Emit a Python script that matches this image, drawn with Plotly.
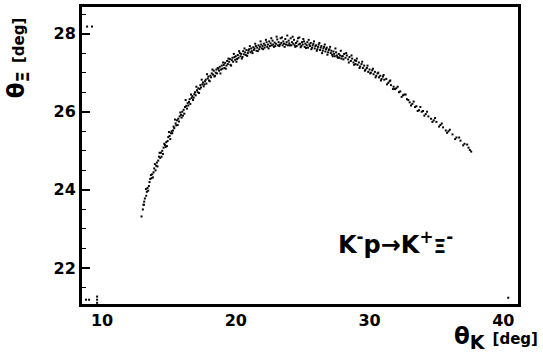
import plotly.graph_objects as go

# theta_K [deg] / theta_Xi [deg] scatter points
theta_k = [
    12.95, 13.05, 13.1, 13.15, 13.2, 13.3, 13.35, 13.4, 13.5, 13.55, 13.6, 13.7, 13.75, 13.85, 13.9, 14.0, 14.05,
    14.1, 14.2, 14.25, 14.35, 14.4, 14.5, 14.55, 14.6, 14.7, 14.75, 14.8, 14.9, 14.95,
    15.05, 15.1, 15.15, 15.2, 15.3, 15.35, 15.4, 15.5, 15.55, 15.6, 15.7, 15.75, 15.8, 15.9, 15.95,
    16.0, 16.1, 16.15, 16.2, 16.3, 16.35, 16.4, 16.5, 16.55, 16.6, 16.7, 16.75, 16.8, 16.9, 16.95,
    17.0, 17.1, 17.15, 17.2, 17.3, 17.35, 17.4, 17.5, 17.55, 17.6, 17.7, 17.75, 17.8, 17.9, 17.95,
    18.0, 18.1, 18.15, 18.2, 18.3, 18.35, 18.4, 18.5, 18.55, 18.6, 18.7, 18.75, 18.8, 18.9, 18.95,
    19.0, 19.1, 19.15, 19.2, 19.3, 19.35, 19.4, 19.5, 19.55, 19.6, 19.7, 19.75, 19.8, 19.9, 19.95,
    20.0, 20.1, 20.15, 20.2, 20.3, 20.35, 20.4, 20.5, 20.55, 20.6, 20.7, 20.75, 20.8, 20.9, 20.95,
    21.0, 21.1, 21.15, 21.2, 21.3, 21.35, 21.4, 21.5, 21.55, 21.6, 21.7, 21.75, 21.8, 21.9, 21.95,
    22.0, 22.1, 22.15, 22.2, 22.3, 22.35, 22.4, 22.5, 22.55, 22.6, 22.7, 22.75, 22.8, 22.9, 22.95,
    23.0, 23.1, 23.15, 23.2, 23.3, 23.35, 23.4, 23.5, 23.55, 23.6, 23.7, 23.75, 23.8, 23.9, 23.95,
    24.0, 24.1, 24.15, 24.2, 24.3, 24.35, 24.4, 24.5, 24.55, 24.6, 24.7, 24.75, 24.8, 24.9, 24.95,
    25.0, 25.1, 25.15, 25.2, 25.3, 25.35, 25.4, 25.5, 25.55, 25.6, 25.7, 25.75, 25.8, 25.9, 25.95,
    26.0, 26.1, 26.15, 26.2, 26.3, 26.35, 26.4, 26.5, 26.55, 26.6, 26.7, 26.75, 26.8, 26.9, 26.95,
    27.0, 27.1, 27.15, 27.2, 27.3, 27.35, 27.4, 27.5, 27.55, 27.6, 27.7, 27.75, 27.8, 27.9, 27.95,
    28.0, 28.1, 28.2, 28.3, 28.4, 28.5, 28.6, 28.7, 28.8, 28.9, 28.95,
    29.0, 29.1, 29.2, 29.3, 29.4, 29.5, 29.6, 29.7, 29.8, 29.9,
    30.0, 30.1, 30.2, 30.3, 30.4, 30.5, 30.6, 30.7, 30.8, 30.9,
    31.0, 31.1, 31.25, 31.4, 31.5, 31.6, 31.8, 31.9,
    32.0, 32.2, 32.3, 32.5, 32.6, 32.8, 32.9,
    33.0, 33.2, 33.4, 33.5, 33.7, 33.9,
    34.0, 34.2, 34.4, 34.6, 34.8,
    35.0, 35.3, 35.5, 35.7, 35.9,
    36.2, 36.5, 36.8, 37.1, 37.4, 37.5,
    13.12, 13.28, 13.45, 13.65, 13.8, 13.95, 14.15, 14.3, 14.45, 14.65, 14.85, 15.0, 15.25, 15.45, 15.65,
    15.85, 16.05, 16.25, 16.45, 16.65, 16.85, 17.05, 17.25, 17.45, 17.65, 17.85, 18.05, 18.25, 18.45, 18.65,
    18.85, 19.05, 19.25, 19.45, 19.65, 19.85, 20.05, 20.25, 20.45, 20.65, 20.85, 21.05, 21.25, 21.45, 21.65,
    21.85, 22.05, 22.25, 22.45, 22.65, 22.85, 23.05, 23.25, 23.45, 23.65, 23.85, 24.05, 24.25, 24.45, 24.65,
    24.85, 25.05, 25.25, 25.45, 25.65, 25.85, 26.05, 26.25, 26.45, 26.65, 26.85, 27.05, 27.25, 27.45, 27.65,
    27.85, 28.05, 28.25, 28.45, 28.65, 28.85, 29.05, 29.25, 29.45, 29.65, 29.85, 30.05, 30.25, 30.45, 30.65,
    30.85, 31.05, 31.3, 31.55, 31.75, 32.1, 32.4, 32.7, 33.1, 33.3, 33.6, 33.8, 34.1, 34.3, 34.7,
    34.9, 35.2, 35.4, 35.8, 36.0, 36.4, 36.7, 37.0, 37.3, 37.6,
    8.88, 9.25, 8.8, 9.03, 9.63, 9.63, 9.63, 40.37,
]
theta_xi = [
    23.32, 23.5, 23.62, 23.7, 23.78, 23.85, 23.95, 24.05, 24.1, 24.2, 24.28, 24.3, 24.4, 24.45, 24.55, 24.5, 24.62,
    24.7, 24.75, 24.85, 24.82, 24.95, 25.0, 24.92, 25.08, 25.15, 25.1, 25.22, 25.25, 25.35,
    25.38, 25.3, 25.45, 25.5, 25.52, 25.62, 25.58, 25.7, 25.65, 25.78, 25.82, 25.75, 25.88, 25.92, 25.85,
    26.0, 26.05, 25.95, 26.12, 26.15, 26.08, 26.22, 26.25, 26.32, 26.2, 26.35, 26.4, 26.3, 26.45, 26.5,
    26.42, 26.55, 26.5, 26.6, 26.58, 26.68, 26.62, 26.7, 26.75, 26.65, 26.78, 26.82, 26.72, 26.85, 26.9,
    26.8, 26.92, 26.88, 26.98, 26.95, 27.05, 26.9, 27.0, 27.08, 26.98, 27.1, 27.05, 27.15, 27.08, 27.18,
    27.1, 27.2, 27.12, 27.25, 27.18, 27.3, 27.22, 27.28, 27.35, 27.2, 27.32, 27.38, 27.28, 27.4, 27.33,
    27.42, 27.35, 27.45, 27.38, 27.5, 27.42, 27.48, 27.4, 27.55, 27.47, 27.52, 27.45, 27.58, 27.5, 27.56,
    27.6, 27.52, 27.62, 27.55, 27.65, 27.58, 27.62, 27.68, 27.56, 27.64, 27.7, 27.6, 27.66, 27.72, 27.62,
    27.68, 27.74, 27.64, 27.7, 27.78, 27.66, 27.72, 27.8, 27.68, 27.75, 27.7, 27.82, 27.72, 27.77, 27.68,
    27.74, 27.85, 27.7, 27.78, 27.72, 27.88, 27.76, 27.7, 27.8, 27.74, 27.86, 27.72, 27.78, 27.7, 27.82,
    27.75, 27.88, 27.7, 27.78, 27.74, 27.84, 27.7, 27.76, 27.68, 27.8, 27.72, 27.9, 27.74, 27.68, 27.78,
    27.72, 27.8, 27.66, 27.74, 27.7, 27.78, 27.64, 27.72, 27.68, 27.76, 27.64, 27.7, 27.74, 27.62, 27.68,
    27.7, 27.6, 27.66, 27.72, 27.58, 27.64, 27.68, 27.56, 27.62, 27.66, 27.54, 27.6, 27.64, 27.52, 27.58,
    27.6, 27.5, 27.56, 27.46, 27.54, 27.48, 27.42, 27.52, 27.44, 27.4, 27.48, 27.38, 27.44, 27.36, 27.42,
    27.42, 27.48, 27.38, 27.44, 27.34, 27.4, 27.3, 27.36, 27.26, 27.32, 27.22,
    27.3, 27.2, 27.26, 27.16, 27.22, 27.12, 27.18, 27.08, 27.12, 27.02,
    27.08, 27.0, 27.06, 26.96, 27.02, 26.92, 26.98, 26.88, 26.92, 26.84,
    26.9, 26.82, 26.84, 26.74, 26.78, 26.68, 26.64, 26.58,
    26.6, 26.5, 26.52, 26.42, 26.44, 26.32, 26.3,
    26.24, 26.2, 26.12, 26.14, 26.04, 26.0,
    26.02, 25.94, 25.88, 25.82, 25.78,
    25.74, 25.66, 25.6, 25.52, 25.5,
    25.42, 25.34, 25.26, 25.18, 25.08, 25.02,
    23.62, 24.02, 23.98, 24.38, 24.32, 24.66, 24.6, 24.95, 24.85, 25.18, 25.12, 25.48, 25.45, 25.8, 25.66,
    25.98, 25.9, 26.3, 26.16, 26.44, 26.36, 26.64, 26.48, 26.82, 26.7, 26.96, 26.78, 27.08, 26.92, 27.12,
    26.98, 27.26, 27.1, 27.36, 27.18, 27.48, 27.28, 27.55, 27.36, 27.62, 27.43, 27.68, 27.5, 27.74, 27.55,
    27.8, 27.6, 27.84, 27.62, 27.88, 27.66, 27.92, 27.68, 27.9, 27.66, 27.95, 27.7, 27.92, 27.66, 27.88,
    27.65, 27.86, 27.63, 27.84, 27.6, 27.8, 27.56, 27.76, 27.5, 27.72, 27.46, 27.66, 27.42, 27.62, 27.38,
    27.56, 27.34, 27.5, 27.26, 27.44, 27.2, 27.36, 27.12, 27.28, 27.05, 27.18, 26.98, 27.1, 26.88, 27.0,
    26.8, 26.94, 26.7, 26.8, 26.58, 26.64, 26.38, 26.44, 26.16, 26.26, 26.02, 26.12, 25.9, 26.0, 25.74,
    25.84, 25.62, 25.7, 25.46, 25.54, 25.3, 25.34, 25.14, 25.16, 24.98,
    28.18, 28.18, 21.19, 21.19, 21.27, 21.19, 21.11, 21.24,
]

x_ticks = [10, 20, 30, 40]
y_ticks = [22, 24, 26, 28]
reaction_label = "K<sup>-</sup>p→K<sup>+</sup><span style='font-size:20px'>Ξ</span><sup>-</sup>"

fig = go.Figure()
fig.add_trace(go.Scatter(
    x=theta_k, y=theta_xi, mode="markers",
    marker=dict(symbol="square", size=2, color="black", line=dict(width=0)),
    showlegend=False, hoverinfo="skip",
))

tickfont = dict(family="DejaVu Sans", size=16, color="black", weight="bold")

fig.update_layout(
    width=543, height=361,
    margin=dict(l=82, r=25, t=4, b=57),
    paper_bgcolor="white", plot_bgcolor="white",
    xaxis=dict(
        range=[8.5, 41.1], tickvals=x_ticks, ticktext=[str(v) for v in x_ticks],
        showgrid=False, zeroline=False, showline=True, mirror=True,
        linecolor="black", linewidth=3, ticks="", tickfont=tickfont,
    ),
    yaxis=dict(
        range=[21.08, 28.68], tickvals=y_ticks, ticktext=[str(v) for v in y_ticks],
        showgrid=False, zeroline=False, showline=True, mirror=True,
        linecolor="black", linewidth=3, ticks="inside", ticklen=8, tickwidth=1.5,
        tickcolor="black", tickfont=tickfont,
        minor=dict(ticks="inside", ticklen=4, tickwidth=1.2, tickcolor="black", dtick=0.5, showgrid=False),
    ),
    annotations=[
        dict(
            text="θ<sub><span style='font-size:18px'>Ξ</span></sub> <span style='font-size:15px'>[deg]</span>",
            xref="paper", yref="paper", x=-0.145, y=0.83,
            xanchor="center", yanchor="middle", textangle=-90, showarrow=False,
            font=dict(family="DejaVu Sans", size=23, color="black", weight="bold"),
        ),
        dict(
            text="θ<sub><span style='font-size:19px'>K</span></sub> <span style='font-size:15px'>[deg]</span>",
            xref="paper", yref="paper", x=1.05, y=-0.115,
            xanchor="right", yanchor="middle", showarrow=False,
            font=dict(family="DejaVu Sans", size=23, color="black", weight="bold"),
        ),
        dict(
            text=reaction_label,
            xref="paper", yref="paper", x=0.718, y=0.205,
            xanchor="center", yanchor="middle", showarrow=False,
            font=dict(family="DejaVu Sans", size=24, color="black", weight="bold"),
        ),
    ],
)

fig.write_html("out.html", config={"displayModeBar": False},
               post_script="document.body.style.margin='0';")
